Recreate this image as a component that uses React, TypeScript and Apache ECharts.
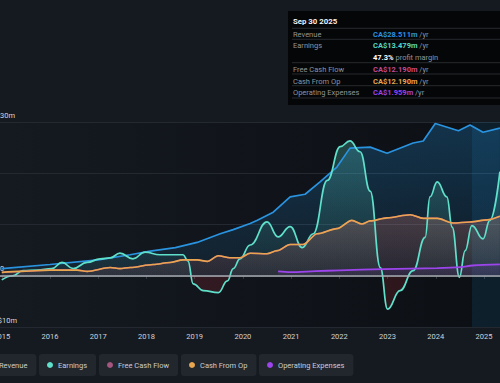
import React, { useEffect, useRef } from "react";
import * as echarts from "echarts";

// ---------- data ----------
const YEARS = [2015, 2016, 2017, 2018, 2019, 2020, 2021, 2022, 2023, 2024, 2025];
const X_MIN = 2014.963;
const X_MAX = 2025.332;
const HIGHLIGHT_START = 2024.75;

const revenueX = [2015.0, 2016.0, 2017.0, 2017.66, 2018.08, 2018.6, 2019.05, 2019.53, 2019.8, 2020.15, 2020.29, 2020.63, 2020.98, 2021.29, 2021.6, 2021.95, 2022.22, 2022.64, 2022.99, 2023.53, 2023.74, 2023.99, 2024.47, 2024.71, 2024.98, 2025.33];
const revenueY = [1.4, 2.2, 3.1, 4.1, 4.8, 5.5, 6.5, 8.2, 9.0, 10.2, 10.8, 12.4, 15.4, 15.9, 18.3, 21.2, 24.9, 25.1, 23.9, 25.9, 26.3, 29.7, 28.3, 29.4, 28.0, 28.8];

const earningsX = [2015.0, 2015.23, 2015.44, 2015.73, 2016.04, 2016.25, 2016.48, 2016.77, 2017.04, 2017.25, 2017.45, 2017.72, 2017.97, 2018.28, 2018.76, 2018.86, 2018.97, 2019.18, 2019.49, 2019.68, 2019.8, 2019.94, 2020.15, 2020.5, 2020.73, 2020.98, 2021.23, 2021.46, 2021.75, 2022.02, 2022.22, 2022.43, 2022.64, 2022.85, 2023.0, 2023.26, 2023.53, 2023.78, 2023.88, 2024.03, 2024.23, 2024.34, 2024.49, 2024.61, 2024.75, 2024.98, 2025.12, 2025.33];
const earningsY = [-0.8, 0.0, 1.0, 1.1, 1.4, 2.6, 1.4, 2.6, 3.3, 3.5, 4.4, 3.3, 4.6, 4.1, 4.1, 2.9, -1.6, -2.9, -3.3, -1.0, 1.4, 3.3, 6.0, 10.5, 7.6, 9.6, 5.5, 8.2, 18.6, 25.2, 26.3, 24.2, 16.5, 1.6, -6.5, -2.9, 1.0, 7.5, 15.4, 18.3, 15.4, 9.5, -0.3, 4.9, 9.8, 7.2, 10.8, 20.3];

const cashOpX = [2015.0, 2015.38, 2016.0, 2016.56, 2016.77, 2017.25, 2017.45, 2017.66, 2018.14, 2018.49, 2018.76, 2019.05, 2019.26, 2019.49, 2019.73, 2019.94, 2020.15, 2020.5, 2020.71, 2020.98, 2021.25, 2021.54, 2021.95, 2022.26, 2022.47, 2022.64, 2022.99, 2023.47, 2023.74, 2024.03, 2024.36, 2024.71, 2025.07, 2025.33];
const cashOpY = [0.65, 0.85, 1.1, 1.1, 0.85, 1.6, 1.4, 1.6, 2.2, 2.6, 3.1, 3.1, 2.8, 3.9, 3.5, 3.5, 4.4, 4.3, 4.9, 6.1, 6.1, 8.2, 9.2, 10.8, 10.1, 10.7, 11.3, 11.9, 11.2, 11.2, 10.3, 10.5, 10.9, 11.6];
const freeCashY = [0.65, 0.85, 1.1, 1.1, 0.85, 1.6, 1.4, 1.6, 2.2, 2.6, 3.1, 3.1, 2.8, 3.9, 3.5, 3.5, 4.4, 4.3, 4.9, 6.1, 6.1, 8.2, 9.2, 10.8, 10.1, 10.7, 11.3, 11.9, 11.2, 11.2, 10.3, 10.5, 10.9, 11.6];

const opexX = [2020.73, 2020.98, 2021.5, 2022.0, 2022.91, 2024.03, 2024.51, 2024.76, 2025.33];
const opexY = [0.85, 0.7, 0.9, 1.05, 1.3, 1.5, 1.7, 2.0, 2.2];

const SERIES_NAMES = ["Revenue", "Earnings", "Free Cash Flow", "Cash From Op", "Operating Expenses"];
const Y_LABELS: Record<string, string> = { "30": "CA$30m", "0": "CA$0", "-10": "-CA$10m" };

const TIP_DATE = "Sep 30 2025";
const TIP_LABELS = ["Revenue", "Earnings", "", "Free Cash Flow", "Cash From Op", "Operating Expenses"];
const TIP_VALUES = ["CA$28.511m", "CA$13.479m", "47.3%", "CA$12.190m", "CA$12.190m", "CA$1.959m"];

// ---------- styles ----------
const BG = "#151a21";
const C = {
  rev: "#2a93e0",
  earn: "#5fe0cb",
  fcf: "#c44a8c",
  cfo: "#e8a64f",
  opex: "#9d45ec",
};
const LEGEND_COLORS = [C.rev, C.earn, "#a4567f", C.cfo, C.opex];
const TIP_COLORS = [C.rev, "#56d6c4", "#ffffff", C.fcf, C.cfo, "#9a42e6"];
const FONT = "Roboto";

const zip = (xs: number[], ys: number[]) => xs.map((x, i) => [x, ys[i]]);

export default function App() {
  const ref = useRef<HTMLDivElement>(null);

  useEffect(() => {
    const chart = echarts.init(ref.current!, null, { renderer: "svg" });

    const legendLefts = [-20, 39, 99, 181, 259];
    const legends = SERIES_NAMES.map((n, i) => ({
      data: [{ name: n, itemStyle: { color: LEGEND_COLORS[i] } }],
      left: legendLefts[i],
      top: 354,
      orient: "horizontal",
      icon: "circle",
      itemWidth: 6,
      itemHeight: 6,
      padding: [7, 9, 7, 8],
      backgroundColor: "#22262d",
      borderRadius: 3,
      selectedMode: false,
      textStyle: { color: "#c9cdd2", fontSize: 7.5, fontFamily: FONT },
    }));

    const rowYs = [34, 45, 57, 69, 81, 92];
    const sepYs = [28.3, 39.3, 62.7, 74, 85.7, 98];
    const graphics: any[] = [
      { type: "rect", shape: { x: 288, y: 11, width: 220, height: 94 }, style: { fill: "#050608" }, z: 100 },
      ...sepYs.map((y) => ({
        type: "line",
        shape: { x1: 292, y1: y, x2: 500, y2: y },
        style: { stroke: "#2f3339", lineWidth: 0.8 },
        z: 101,
      })),
      {
        type: "text", x: 293, y: 21, z: 102,
        style: { text: TIP_DATE, fill: "#f2f2f2", fontSize: 7.8, fontWeight: "bold", fontFamily: FONT, verticalAlign: "middle" },
      },
      ...TIP_LABELS.map((t, i) => ({
        type: "text", x: 293, y: rowYs[i], z: 102,
        style: { text: t, fill: "#8f959c", fontSize: 7.5, fontFamily: FONT, verticalAlign: "middle" },
      })),
      ...TIP_VALUES.map((v, i) => ({
        type: "text", x: 373, y: rowYs[i], z: 102,
        style: {
          text: i === 2 ? `{v|${v}}{u| profit margin}` : `{v|${v}}{u| /yr}`,
          verticalAlign: "middle",
          fontSize: 7.5,
          fontFamily: FONT,
          rich: {
            v: { fill: TIP_COLORS[i], fontWeight: "bold", fontSize: 7.5, fontFamily: FONT },
            u: { fill: "#8f959c", fontSize: 7.5, fontFamily: FONT },
          },
        },
      })),
    ];

    const option: any = {
      animation: false,
      backgroundColor: BG,
      textStyle: { fontFamily: FONT },
      grid: {
        left: 0, right: 0, top: 122, bottom: 56,
        containLabel: false,
        outerBoundsMode: "none",
        show: true,
        borderWidth: 0,
        backgroundColor: new echarts.graphic.LinearGradient(0, 0, 1, 0, [
          { offset: 0, color: "#151a21" },
          { offset: 1, color: "#0c0f14" },
        ]),
      },
      legend: legends,
      xAxis: {
        type: "value",
        min: X_MIN,
        max: X_MAX,
        axisLine: { show: true, lineStyle: { color: "#2b3038", width: 1 } },
        axisTick: { show: true, length: 3, customValues: YEARS, lineStyle: { color: "#3a3f47" } },
        axisLabel: {
          customValues: YEARS,
          formatter: (v: number) => String(Math.round(v)),
          color: "#cfd3d8",
          fontSize: 7.5,
          margin: 5,
          fontFamily: FONT,
        },
        splitLine: { show: false },
      },
      yAxis: {
        type: "value",
        min: -10,
        max: 30,
        interval: 10,
        axisLine: { show: false },
        axisTick: { show: false },
        splitLine: { show: true, lineStyle: { color: "#242931", width: 1 } },
        axisLabel: {
          inside: true,
          margin: -14,
          verticalAlign: "bottom",
          padding: [0, 0, 3, 0],
          color: "#d4d7dc",
          fontSize: 7.5,
          fontFamily: FONT,
          formatter: (v: number) => Y_LABELS[String(v)] ?? "",
        },
      },
      graphic: graphics,
      series: [
        {
          id: "rev", name: SERIES_NAMES[0], type: "line", data: zip(revenueX, revenueY),
          symbol: "none", lineStyle: { color: C.rev, width: 1.7 }, itemStyle: { color: C.rev },
          areaStyle: { color: "rgba(35,148,223,0.25)" },
          markArea: {
            silent: true,
            itemStyle: { color: "rgba(35,148,223,0.12)" },
            data: [[{ xAxis: HIGHLIGHT_START }, { xAxis: X_MAX }]],
          },
        },
        {
          id: "earn", name: SERIES_NAMES[1], type: "line", data: zip(earningsX, earningsY),
          symbol: "none", smooth: 0.45, smoothMonotone: "x",
          lineStyle: { color: C.earn, width: 1.7 }, itemStyle: { color: C.earn },
          areaStyle: { color: "rgba(95,224,203,0.25)" },
        },
        {
          id: "fcf", name: SERIES_NAMES[2], type: "line", data: zip(cashOpX, freeCashY),
          symbol: "none", smooth: 0.3, smoothMonotone: "x",
          lineStyle: { color: C.fcf, width: 1.5 }, itemStyle: { color: C.fcf },
          areaStyle: { color: "rgba(196,74,140,0.15)" },
        },
        {
          id: "cfo", name: SERIES_NAMES[3], type: "line", data: zip(cashOpX, cashOpY),
          symbol: "none", smooth: 0.3, smoothMonotone: "x",
          lineStyle: { color: C.cfo, width: 1.6 }, itemStyle: { color: C.cfo },
          areaStyle: { color: "rgba(232,166,79,0.12)" },
        },
        {
          id: "opex", name: SERIES_NAMES[4], type: "line", data: zip(opexX, opexY),
          symbol: "none", smooth: 0.3,
          lineStyle: { color: C.opex, width: 1.8 }, itemStyle: { color: C.opex },
          areaStyle: { color: "rgba(157,69,236,0.15)" },
          markLine: {
            silent: true, symbol: "none", label: { show: false },
            lineStyle: { color: "#a9adb3", width: 1.5, type: "solid" },
            data: [{ yAxis: 0 }],
          },
        },
      ],
    };

    chart.setOption(option);

    const py = (v: number) => chart.convertToPixel({ yAxisIndex: 0 }, v) as number;
    const y0 = py(0), y30 = py(30), yMin = py(-10), y12 = py(12), y3 = py(3);
    const g = (a: number, b: number, stops: any[]) =>
      new echarts.graphic.LinearGradient(0, a, 0, b, stops, true);
    const f = (y0 - y30) / (yMin - y30);

    chart.setOption({
      series: [
        {
          id: "rev",
          areaStyle: {
            color: g(y30, y0, [
              { offset: 0, color: "rgba(35,148,223,0.38)" },
              { offset: 1, color: "rgba(35,148,223,0.12)" },
            ]),
          },
        },
        {
          id: "earn",
          areaStyle: {
            color: g(y30, yMin, [
              { offset: 0, color: "rgba(95,224,203,0.42)" },
              { offset: f * 0.999, color: "rgba(95,224,203,0.06)" },
              { offset: f, color: "rgba(190,45,55,0.26)" },
              { offset: 1, color: "rgba(190,45,55,0.26)" },
            ]),
          },
        },
        {
          id: "fcf",
          areaStyle: {
            color: g(y12, y0, [
              { offset: 0, color: "rgba(196,74,140,0.22)" },
              { offset: 1, color: "rgba(196,74,140,0.1)" },
            ]),
          },
        },
        {
          id: "cfo",
          areaStyle: {
            color: g(y12, y0, [
              { offset: 0, color: "rgba(232,166,79,0.2)" },
              { offset: 1, color: "rgba(232,166,79,0.06)" },
            ]),
          },
        },
        {
          id: "opex",
          areaStyle: {
            color: g(y3, y0, [
              { offset: 0, color: "rgba(157,69,236,0.25)" },
              { offset: 1, color: "rgba(157,69,236,0.1)" },
            ]),
          },
        },
      ],
    });

    return () => chart.dispose();
  }, []);

  return (
    <div
      ref={ref}
      style={{ position: "fixed", left: 0, top: 0, width: 500, height: 383, background: BG }}
    />
  );
}
